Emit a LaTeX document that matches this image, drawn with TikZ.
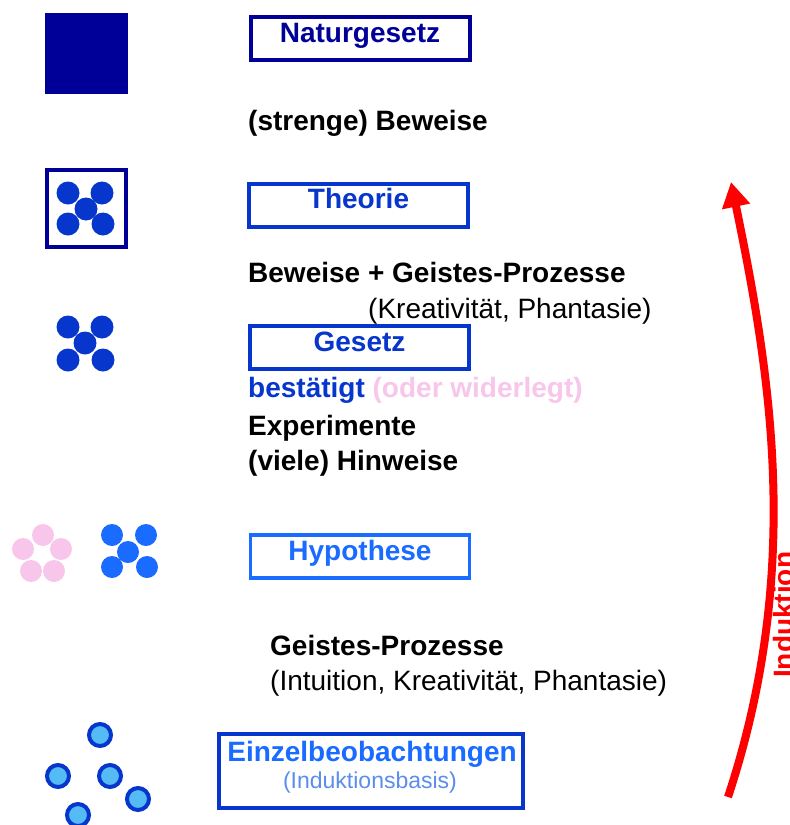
\documentclass[tikz,border=0pt]{standalone}
\usepackage{fontspec}
\setmainfont{Liberation Sans}
\usetikzlibrary{arrows.meta}
\definecolor{navy}{HTML}{000099}
\definecolor{royal}{HTML}{0636CC}
\definecolor{hypblau}{HTML}{1A6BFF}
\definecolor{hellblau}{HTML}{5B8DEF}
\definecolor{punkt}{HTML}{55BBF5}
\definecolor{rosa}{HTML}{F8C6EA}
\definecolor{rot}{HTML}{FF0000}

\begin{document}
\begin{tikzpicture}[x=1pt,y=-1pt,
  every node/.style={inner sep=0pt,font=\fontsize{28}{33}\selectfont\bfseries},
  stufe/.style={draw,line width=4pt,minimum width=219pt,minimum height=43pt,
                text height=19pt,text depth=12pt},
  txt/.style={anchor=base west},
  klammer/.style={anchor=base west,font=\fontsize{28}{33}\selectfont},
  >={Triangle[length=25pt,width=27pt]}]
\clip (0,0) rectangle (790,825);
\fill[white] (0,0) rectangle (790,825);
% icons on the left
\fill[navy] (45,13) rectangle (128,94);
\draw[navy,line width=4pt] (47,170) rectangle (126,247);
\foreach \x/\y in {68/193,102/193,86/209,68/224,103/224}
  \fill[royal] (\x,\y) circle[radius=11.5pt];
\foreach \x/\y in {68/327,102/327,85/343,68/360,103/360}
  \fill[royal] (\x,\y) circle[radius=11.5pt];
\foreach \x/\y in {43/535,23/549,61/549,31/571,54/571}
  \fill[rosa] (\x,\y) circle[radius=11pt];
\foreach \x/\y in {112/535,146/535,128/552,112/567,147/567}
  \fill[hypblau] (\x,\y) circle[radius=11pt];
\foreach \x/\y in {100/735,58/776,110/776,138/799,78/815}
  \filldraw[fill=punkt,draw=royal,line width=4pt] (\x,\y) circle[radius=11pt];
% stages
\node[stufe,navy] (natur) at (360,38.5) {Naturgesetz};
\node[stufe,draw=navy,royal] (theo) at (358.5,205) {Theorie};
\node[stufe,royal,line width=3.5pt] (ges) at (359.5,347.5) {Gesetz};
\node[stufe,hypblau,line width=3.5pt] (hyp) at (360,556.5) {Hypothese};
\node[draw=royal,line width=4pt,minimum width=304pt,minimum height=74pt] (einzel) at (371,771) {};
\node[anchor=base,hypblau] (einzel-t) at (372,761) {Einzelbeobachtungen};
\node[anchor=base,hellblau,font=\fontsize{23}{27}\selectfont] (einzel-s) at (370,788) {(Induktionsbasis)};
% texts between the stages
\node[txt] (bew1) at (248,130) {(strenge) Beweise};
\node[txt] (bew2) at (248,282) {Beweise + Geistes-Prozesse};
\node[klammer] (krea1) at (368,318) {(Kreativität, Phantasie)};
\node[txt,royal] (best) at (248,397) {bestätigt \textcolor{rosa}{(oder widerlegt)}};
\node[txt] (exp) at (248,435) {Experimente};
\node[txt] (hinw) at (248,470) {(viele) Hinweise};
\node[txt] (geist) at (270,655) {Geistes-Prozesse};
\node[klammer] (krea2) at (270,690) {(Intuition, Kreativität, Phantasie)};
% induction arrow
\coordinate (ind-a) at (728,797);
\coordinate (ind-b) at (731,182);
\draw[->,rot,line width=8pt] (ind-a) .. controls (802,573) and (772,380) .. (ind-b);
\node[rot,rotate=90,anchor=base west] (ind) at (793,678) {Induktion};
\end{tikzpicture}
\end{document}
